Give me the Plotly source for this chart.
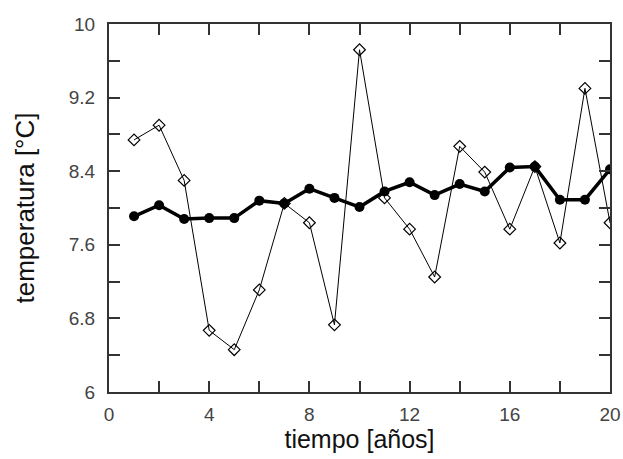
import plotly.graph_objects as go

# años de la serie
tiempo = list(range(1, 21))

# temperatura anual (puntos huecos)
temp_anual = [8.74, 8.90, 8.30, 6.67, 6.46, 7.11, 8.05, 7.84, 6.73, 9.72,
              8.11, 7.77, 7.25, 8.67, 8.39, 7.77, 8.45, 7.62, 9.30, 7.84]

# temperatura media móvil (puntos llenos)
temp_media = [7.91, 8.03, 7.88, 7.89, 7.89, 8.08, 8.05, 8.21, 8.11, 8.01,
              8.18, 8.28, 8.14, 8.26, 8.18, 8.44, 8.45, 8.09, 8.09, 8.42]

x_ticks = [0, 4, 8, 12, 16, 20]
y_ticks = [6, 6.8, 7.6, 8.4, 9.2, 10]

FONT = "Liberation Sans, Arial, sans-serif"

fig = go.Figure()

fig.add_trace(go.Scatter(
    x=tiempo, y=temp_anual, mode="lines+markers",
    line=dict(color="black", width=1),
    marker=dict(symbol="diamond-open", size=9, color="black",
                line=dict(width=1.2, color="black")),
    showlegend=False,
))

fig.add_trace(go.Scatter(
    x=tiempo, y=temp_media, mode="lines+markers",
    line=dict(color="black", width=3.5),
    marker=dict(symbol="circle", size=10, color="black"),
    showlegend=False,
))

axis_common = dict(
    showgrid=False, zeroline=False, automargin=False,
    showline=True, linecolor="#333", linewidth=2, mirror="ticks",
    ticks="inside", ticklen=11, tickwidth=1.5, tickcolor="#333",
    tickfont=dict(family=FONT, size=19, color="#444"),
)

fig.update_xaxes(
    range=[0, 20], tickvals=x_ticks, ticktext=[str(v) for v in x_ticks],
    ticklabelstandoff=4,
    minor=dict(dtick=2, tick0=0, ticks="inside", ticklen=11, tickwidth=1.5,
               tickcolor="#333", showgrid=False),
    title=dict(text="tiempo [años]", font=dict(family=FONT, size=25, color="#111"),
               standoff=0),
    **axis_common,
)
fig.update_yaxes(
    range=[6, 10], tickvals=y_ticks, ticktext=[f"{v:g}" for v in y_ticks],
    ticklabelstandoff=8,
    minor=dict(dtick=0.4, tick0=6, ticks="inside", ticklen=11, tickwidth=1.5,
               tickcolor="#333", showgrid=False),
    title=dict(text="temperatura [°C]", font=dict(family=FONT, size=26, color="#111"),
               standoff=27),
    **axis_common,
)

fig.update_layout(
    width=623, height=459,
    margin=dict(l=109, r=13, t=24, b=67),
    paper_bgcolor="white", plot_bgcolor="white",
)

fig.write_html("out.html")
